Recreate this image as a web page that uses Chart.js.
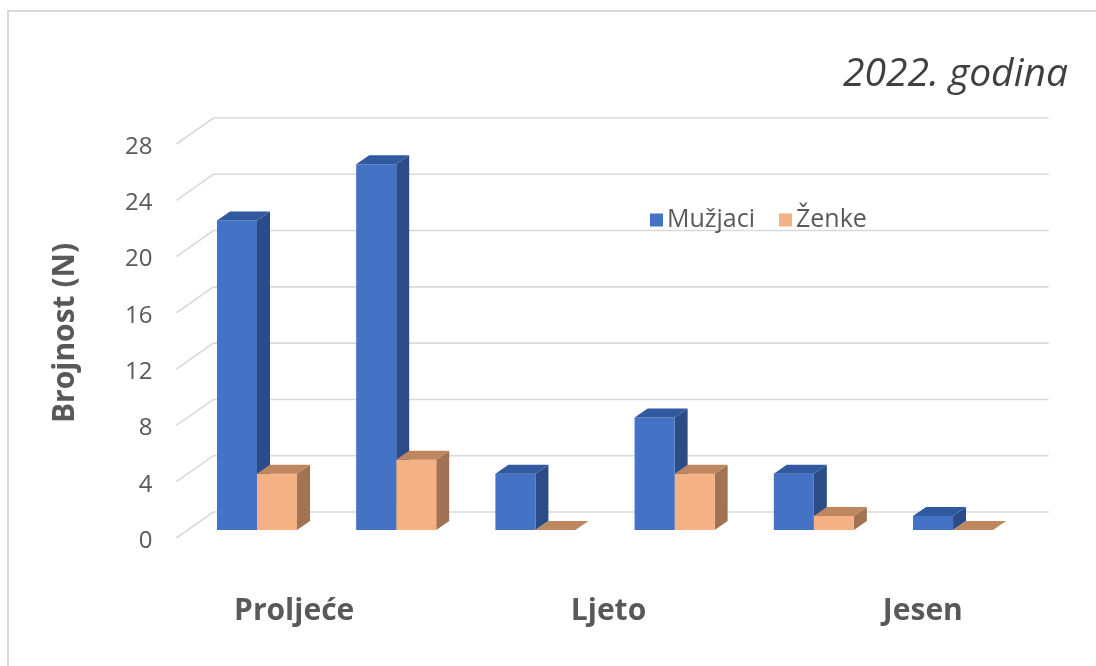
<!DOCTYPE html>
<html><head><meta charset="utf-8">
<script src="https://cdn.jsdelivr.net/npm/chart.js@4.4.0/dist/chart.umd.min.js"></script>
<style>html,body{margin:0;padding:0;background:#fff;} #wrap{width:1096px;height:666px;position:relative;}</style>
</head><body><div id="wrap"><canvas id="c"></canvas></div>
<script>
// ---- data ----
const categories = ['Proljeće 1', 'Proljeće 2', 'Ljeto 1', 'Ljeto 2', 'Jesen 1', 'Jesen 2'];
const seasons = ['Proljeće', 'Ljeto', 'Jesen'];
const seriesNames = ['Mužjaci', 'Ženke'];
const males = [22, 26, 4, 8, 4, 1];
const females = [4, 5, 0, 4, 1, 0];
const yTickValues = [0, 4, 8, 12, 16, 20, 24, 28];
const yTitle = 'Brojnost (N)';
const cornerText = '2022. godina';

// ---- style ----
const FONT = "'Open Sans', 'DejaVu Sans', sans-serif";
const TXT = '#595959';
const GRID = '#d9d9d9';
const colors = [
  {front: '#4472C4', side: '#2C4C88', top: '#3059A0'},
  {front: '#F4B183', side: '#A27352', top: '#BE875F'}
];
const DEPTH = {dx: 13, dy: -9};
const FRONTP = {dx: -11, dy: 8};
const BACKP = {dx: 26, dy: -18};

const pts = arr => arr.map((v, i) => ({x: i, y: v}));

function poly(ctx, p, fill) {
  ctx.beginPath();
  ctx.moveTo(p[0][0], p[0][1]);
  for (let i = 1; i < p.length; i++) ctx.lineTo(p[i][0], p[i][1]);
  ctx.closePath();
  ctx.fillStyle = fill;
  ctx.fill();
}

const threeD = {
  id: 'threeD',
  beforeDraw(chart) {
    const ctx = chart.ctx;
    ctx.save();
    ctx.strokeStyle = GRID;
    ctx.lineWidth = 2;
    ctx.beginPath();
    ctx.moveTo(8, chart.height);
    ctx.lineTo(8, 11);
    ctx.lineTo(chart.width, 11);
    ctx.stroke();
    ctx.restore();
  },
  beforeDatasetsDraw(chart) {
    const ctx = chart.ctx;
    const xs = chart.scales.x, ys = chart.scales.y;
    const x0 = xs.getPixelForValue(-0.5);
    const x1 = xs.getPixelForValue(categories.length - 0.5);
    ctx.save();
    ctx.strokeStyle = GRID;
    ctx.lineWidth = 1.6;
    ys.ticks.forEach(t => {
      const py = ys.getPixelForValue(t.value);
      ctx.beginPath();
      ctx.moveTo(x0 + FRONTP.dx, py + FRONTP.dy);
      ctx.lineTo(x0 + BACKP.dx, py + BACKP.dy);
      ctx.lineTo(x1 + BACKP.dx, py + BACKP.dy);
      ctx.stroke();
    });
    // side faces
    chart.data.datasets.forEach((ds, di) => {
      const meta = chart.getDatasetMeta(di);
      meta.data.forEach(el => {
        const {x, y, base, width} = el.getProps(['x', 'y', 'base', 'width'], true);
        const r = x + width / 2;
        poly(ctx, [[r, y], [r + DEPTH.dx, y + DEPTH.dy], [r + DEPTH.dx, base + DEPTH.dy], [r, base]], colors[di].side);
      });
    });
    ctx.restore();
  },
  afterDatasetsDraw(chart) {
    const ctx = chart.ctx;
    ctx.save();
    chart.data.datasets.forEach((ds, di) => {
      const meta = chart.getDatasetMeta(di);
      meta.data.forEach(el => {
        const {x, y, width} = el.getProps(['x', 'y', 'width'], true);
        const l = x - width / 2, r = x + width / 2;
        poly(ctx, [[l, y], [l + DEPTH.dx, y + DEPTH.dy], [r + DEPTH.dx, y + DEPTH.dy], [r, y]], colors[di].top);
      });
    });
    // legend
    ctx.font = `25px ${FONT}`;
    ctx.textBaseline = 'middle';
    ctx.textAlign = 'left';
    let lx = 650;
    const ly = 220;
    chart.data.datasets.forEach((ds, di) => {
      ctx.fillStyle = colors[di].front;
      ctx.fillRect(lx, ly - 6.5, 13, 13);
      ctx.fillStyle = TXT;
      ctx.fillText(ds.label, lx + 17, ly);
      lx += 17 + ctx.measureText(ds.label).width + 24;
    });
    // corner label
    ctx.font = `italic 39px ${FONT}`;
    ctx.fillStyle = '#404040';
    ctx.textAlign = 'right';
    ctx.textBaseline = 'alphabetic';
    ctx.fillText(cornerText, 1068, 86);
    ctx.restore();
  }
};

new Chart(document.getElementById('c'), {
  type: 'bar',
  data: {
    datasets: [
      {label: seriesNames[0], data: pts(males), backgroundColor: colors[0].front, borderWidth: 0,
       categoryPercentage: 0.575, barPercentage: 1.0},
      {label: seriesNames[1], data: pts(females), backgroundColor: colors[1].front, borderWidth: 0,
       categoryPercentage: 0.575, barPercentage: 1.0}
    ]
  },
  options: {
    responsive: true,
    maintainAspectRatio: false,
    animation: false,
    layout: {padding: {top: 136, right: 16, left: 0, bottom: 0}},
    plugins: {legend: {display: false}, tooltip: {enabled: false}, title: {display: false}},
    scales: {
      x: {type: 'linear', min: -0.862, max: 5.912, display: false, offset: false,
          afterBuildTicks(s) { s.ticks = categories.map((c, i) => ({value: i})); }},
      x2: {
        type: 'category', labels: seasons, position: 'bottom',
        grid: {display: false, drawTicks: false}, border: {display: false},
        ticks: {padding: 63, color: TXT, font: {family: FONT, size: 30, weight: 'bold'}},
        afterFit(s) { s.height = 136; }
      },
      y: {
        min: 0, max: 28,
        afterBuildTicks(s) { s.ticks = yTickValues.map(v => ({value: v})); },
        grid: {display: false, drawTicks: false}, border: {display: false},
        ticks: {mirror: true, crossAlign: 'far', labelOffset: 11, padding: -12,
                color: TXT, font: {family: FONT, size: 24}},
        title: {display: true, text: yTitle, color: TXT, padding: {top: 47, bottom: 0},
                font: {family: FONT, size: 30, weight: 'bold'}},
        afterFit(s) { s.width = 137; }
      }
    }
  },
  plugins: [threeD]
});
</script></body></html>
